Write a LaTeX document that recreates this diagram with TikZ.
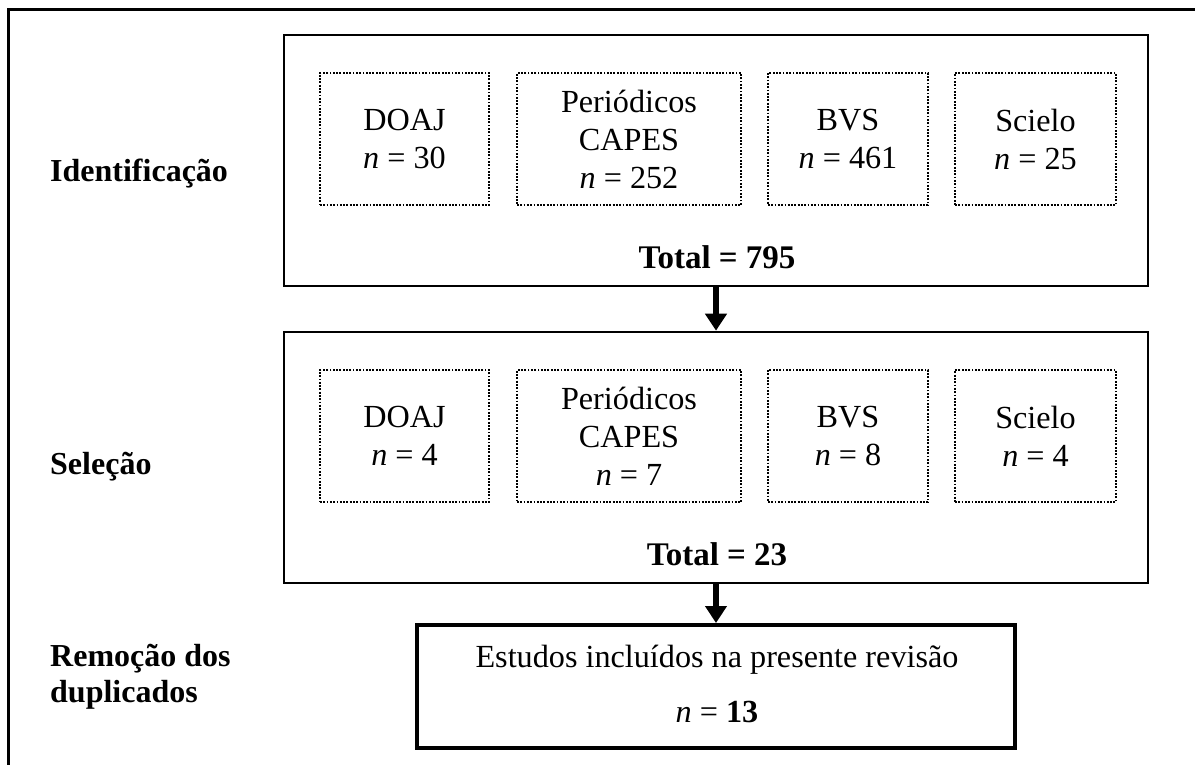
\documentclass[tikz,border=0pt]{standalone}
\usepackage{fontspec}
\setmainfont{Liberation Serif}
\usetikzlibrary{arrows.meta}
\begin{document}
\begin{tikzpicture}[x=1pt,y=-1pt,
  font=\fontsize{32.2}{38}\selectfont,
  stage/.style={draw, line width=2.6pt, rectangle, inner sep=0pt, minimum width=864pt, minimum height=251pt},
  srcbox/.style={draw, line width=2.5pt, dash pattern=on 1.8pt off 1.5pt, rectangle, inner sep=0pt, minimum height=132pt, align=center},
  steplabel/.style={anchor=base west, inner sep=0pt, font=\fontsize{32}{36}\selectfont\bfseries, align=left},
  totlabel/.style={anchor=base, inner sep=0pt, font=\fontsize{33}{38}\selectfont\bfseries},
  plain/.style={anchor=base, inner sep=0pt},
  arr/.style={line width=6pt, -{Triangle[width=21pt,length=17pt]}}
]
\useasboundingbox (0,0) rectangle (1195,765);
\begin{scope}
\clip (0,0) rectangle (1195,765);
\draw[line width=3pt] (8,10) rectangle (1210,780);
\end{scope}

% stage boxes
\node[stage] (ident) at (716,160.5) {};
\node[stage] (sel) at (716,457.5) {};
\node[draw, line width=4pt, rectangle, inner sep=0pt, minimum width=598pt, minimum height=123pt] (incl) at (716,686.5) {};

% step labels
\node[steplabel] (lid) at (50,182) {Identificação};
\node[steplabel] (lsel) at (50,474) {Seleção};
\node[steplabel] (lrem) at (50,702) {Remoção dos\\duplicados};

% row 1 sources
\node[srcbox, minimum width=169pt] (d1) at (404.5,139) {DOAJ\\\textit{n} = 30};
\node[srcbox, minimum width=224pt] (p1) at (629,139) {Periódicos\\CAPES\\\textit{n} = 252};
\node[srcbox, minimum width=160pt] (b1) at (848,139) {BVS\\\textit{n} = 461};
\node[srcbox, minimum width=161pt] (s1) at (1035.5,139) {Scielo\\\textit{n} = 25};
\node[totlabel] (t1) at (717,269) {Total = 795};

% row 2 sources
\node[srcbox, minimum width=169pt] (d2) at (404.5,436) {DOAJ\\\textit{n} = 4};
\node[srcbox, minimum width=224pt] (p2) at (629,436) {Periódicos\\CAPES\\\textit{n} = 7};
\node[srcbox, minimum width=160pt] (b2) at (848,436) {BVS\\\textit{n} = 8};
\node[srcbox, minimum width=161pt] (s2) at (1035.5,436) {Scielo\\\textit{n} = 4};
\node[totlabel] (t2) at (717,565) {Total = 23};

% final box texts
\node[plain] (e1) at (717,667) {Estudos incluídos na presente revisão};
\node[plain] (e2) at (717,722) {\textit{n} = \textbf{13}};

% arrows
\draw[arr] (ident.south) -- (sel.north);
\draw[arr] (sel.south) -- (incl.north);
\end{tikzpicture}
\end{document}
